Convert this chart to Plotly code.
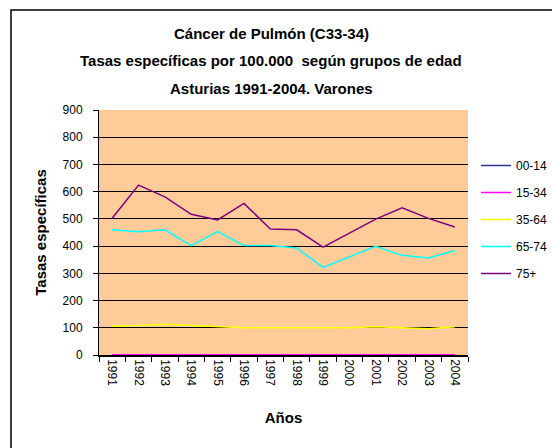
import plotly.graph_objects as go

years = [str(y) for y in range(1991, 2005)]
g00_14 = [0.3, 0.2, 0.3, 0.2, 0.3, 0.2, 0.3, 0.2, 0.2, 0.3, 0.2, 0.3, 0.2, 0.2]
g15_34 = [1, 1, 1.5, 1, 1, 1, 0.8, 1, 1, 0.8, 1, 0.8, 1, 0.8]
g35_64 = [106, 108, 113, 109, 104, 100, 100, 100, 100, 100, 104, 100, 96, 104]
g65_74 = [460, 453, 460, 402, 453, 402, 402, 393, 322, 360, 399, 366, 356, 384]
g75p = [502, 624, 581, 517, 496, 557, 463, 460, 396, 447, 499, 541, 502, 470]

series = [
    ("00-14", g00_14, "#333399"),
    ("15-34", g15_34, "#FF00FF"),
    ("35-64", g35_64, "#FFFF00"),
    ("65-74", g65_74, "#00FFFF"),
    ("75+", g75p, "#800080"),
]

FONT = "Liberation Sans Narrow, Arial Narrow, Liberation Sans, Arial"
BFONT = "Liberation Sans, Arial"

fig = go.Figure()
for name, vals, col in series:
    fig.add_trace(go.Scatter(x=years, y=vals, name=name, mode="lines",
                             line=dict(color=col, width=1.5), legendgroup=name))

L, R, T, B = 99, 84, 110, 93
W, H = 552, 448
pw, ph = W - L - R, H - T - B

def px_x(px):
    return (px - L) / pw

def px_y(py):
    return (H - B - py) / ph

fig.update_layout(
    width=W, height=H,
    margin=dict(l=L, r=R, t=T, b=B, autoexpand=False),
    paper_bgcolor="white",
    plot_bgcolor="#FFCC99",
    font=dict(family=FONT, size=12, color="black"),
    showlegend=True,
    legend=dict(xref="container", yref="container", x=476 / W, y=1 - 151 / H,
                xanchor="left", yanchor="top",
                font=dict(family=FONT, size=12), bgcolor="rgba(0,0,0,0)",
                traceorder="grouped", tracegroupgap=8),
    xaxis=dict(type="category", showline=True, linecolor="black", linewidth=1.5,
               ticks="outside", tickson="boundaries", ticklen=5, tickcolor="black",
               tickangle=90, showgrid=False, tickfont=dict(family=FONT, size=12),
               layer="above traces",
               title=dict(text="<b>Años</b>", font=dict(family=BFONT, size=15), standoff=27),
               range=[-0.5, 13.5]),
    yaxis=dict(range=[0, 900], dtick=100, showline=True, linecolor="black", linewidth=1,
               ticks="outside", ticklen=5, tickcolor="black", showgrid=True,
               gridcolor="black", gridwidth=1, zeroline=False,
               ticklabelstandoff=8,
               tickfont=dict(family=FONT, size=12),
               title=dict(text="<b>Tasas específicas</b>", font=dict(family=BFONT, size=15), standoff=12)),
    shapes=[dict(type="rect", xref="paper", yref="paper",
                 x0=px_x(11), x1=px_x(600), y0=px_y(500), y1=px_y(10),
                 line=dict(color="black", width=1.5), fillcolor="rgba(0,0,0,0)", layer="below")],
)

titles = ["Cáncer de Pulmón (C33-34)",
          "Tasas específicas por 100.000  según grupos de edad",
          "Asturias 1991-2004. Varones"]
for i, t in enumerate(titles):
    fig.add_annotation(text="<b>" + t + "</b>", xref="paper", yref="paper",
                       x=px_x(271), y=px_y(33 + 27.5 * i), xanchor="center", yanchor="middle",
                       showarrow=False, font=dict(family=BFONT, size=15))

fig.write_html("out.html", config={"displayModeBar": False},
               post_script="document.body.style.margin='0px';")
